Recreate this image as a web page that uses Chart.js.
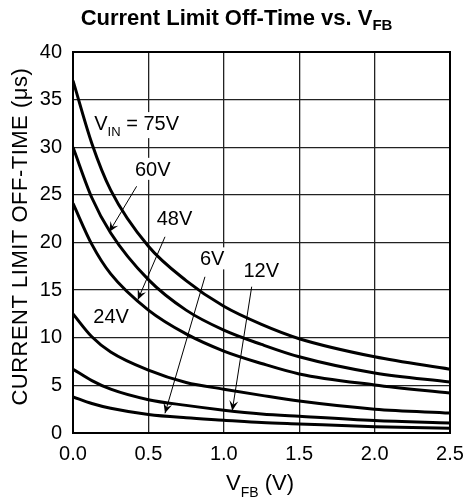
<!DOCTYPE html>
<html><head><meta charset="utf-8">
<script src="https://cdn.jsdelivr.net/npm/chart.js@4.4.1/dist/chart.umd.min.js"></script>
<style>html,body{margin:0;padding:0;background:#fff;}#wrap{width:467px;height:504px;}</style>
</head><body><div id="wrap"><canvas id="c" width="467" height="504"></canvas></div>
<script>
// ---- data ----
const vfb = [0, 0.125, 0.25, 0.5, 0.75, 1.0, 1.25, 1.5, 2.0, 2.5];
const vin75 = [37.0, 30.4, 25.5, 19.6, 16.0, 13.3, 11.4, 9.9, 8.0, 6.7];
const vin60 = [30.0, 24.7, 21.0, 16.1, 12.9, 10.8, 9.3, 8.0, 6.3, 5.35];
const vin48 = [24.1, 19.8, 16.7, 12.9, 10.4, 8.6, 7.3, 6.2, 5.05, 4.2];
const vin24 = [12.5, 10.1, 8.5, 6.6, 5.3, 4.6, 3.95, 3.35, 2.5, 2.1];
const vin12 = [6.7, 5.5, 4.6, 3.5, 2.9, 2.4, 2.0, 1.75, 1.3, 1.05];
const vin6 = [3.8, 3.1, 2.6, 1.95, 1.6, 1.35, 1.1, 0.95, 0.66, 0.5];
const seriesNames = ['75V', '60V', '48V', '24V', '12V', '6V'];
const xTickLabels = ['0.0', '0.5', '1.0', '1.5', '2.0', '2.5'];
const yTickLabels = ['0', '5', '10', '15', '20', '25', '30', '35', '40'];

// curve labels (text + anchor in data units) and arrows
const labelTexts = ['V', '60V', '48V', '24V', '6V', '12V'];
const labelAt = [[0.141, 31.8], [0.411, 27.0], [0.555, 21.8], [0.135, 11.5], [0.842, 17.6], [1.13, 16.4]];
const arrows = [
  [[0.422, 25.9], [0.24, 21.1]],
  [[0.61, 20.6], [0.43, 14.0]],
  [[0.875, 16.4], [0.61, 2.07]],
  [[1.185, 15.36], [1.056, 2.34]]
];

const FONT = "'Liberation Sans', Arial, Helvetica, sans-serif";
const allSeries = [vin75, vin60, vin48, vin24, vin12, vin6];

const datasets = allSeries.map((vals, i) => ({
  label: seriesNames[i],
  data: vals.map((v, j) => ({ x: vfb[j], y: v })),
  borderColor: '#000',
  borderWidth: 3,
  pointRadius: 0,
  fill: false,
  tension: 0.3,
  cubicInterpolationMode: 'monotone'
}));

function richText(ctx, parts, x, y, align) {
  let total = 0;
  parts.forEach(p => { ctx.font = p[1]; total += ctx.measureText(p[0]).width; });
  let cx = align === 'center' ? x - total / 2 : x;
  ctx.textAlign = 'left';
  ctx.textBaseline = 'alphabetic';
  parts.forEach(p => { ctx.font = p[1]; ctx.fillText(p[0], cx, y + p[2]); cx += ctx.measureText(p[0]).width; });
  return total;
}

function labelParts(i) {
  if (i === 0) return [['V', `20px ${FONT}`, 0], ['IN', `13px ${FONT}`, 6], [' = 75V', `20px ${FONT}`, 0]];
  return [[labelTexts[i], `20px ${FONT}`, 0]];
}

const decor = {
  id: 'decor',
  beforeDatasetsDraw(chart) {
    const { ctx, chartArea: a, scales: { x, y } } = chart;
    ctx.save();
    labelAt.forEach((p, i) => {
      let w = 0;
      labelParts(i).forEach(q => { ctx.font = q[1]; w += ctx.measureText(q[0]).width; });
      const px = x.getPixelForValue(p[0]), py = y.getPixelForValue(p[1]);
      ctx.fillStyle = '#fff';
      ctx.fillRect(px - 3, py - 18, w + 6, i === 0 ? 26 : 22);
    });
    ctx.strokeStyle = '#000';
    ctx.lineWidth = 2;
    ctx.strokeRect(a.left, a.top, a.right - a.left, a.bottom - a.top);
    ctx.restore();
  },
  afterDatasetsDraw(chart) {
    const { ctx, scales: { x, y } } = chart;
    ctx.save();
    ctx.fillStyle = '#000';
    labelAt.forEach((p, i) => {
      richText(ctx, labelParts(i), x.getPixelForValue(p[0]), y.getPixelForValue(p[1]), 'left');
    });
    ctx.strokeStyle = '#000';
    ctx.lineWidth = 1;
    arrows.forEach(ar => {
      const x0 = x.getPixelForValue(ar[0][0]), y0 = y.getPixelForValue(ar[0][1]);
      const x1 = x.getPixelForValue(ar[1][0]), y1 = y.getPixelForValue(ar[1][1]);
      const ang = Math.atan2(y1 - y0, x1 - x0);
      ctx.beginPath(); ctx.moveTo(x0, y0); ctx.lineTo(x1, y1); ctx.stroke();
      const L = 11, W = 0.42;
      ctx.beginPath();
      ctx.moveTo(x1, y1);
      ctx.lineTo(x1 - L * Math.cos(ang - W), y1 - L * Math.sin(ang - W));
      ctx.lineTo(x1 - 0.55 * L * Math.cos(ang), y1 - 0.55 * L * Math.sin(ang));
      ctx.lineTo(x1 - L * Math.cos(ang + W), y1 - L * Math.sin(ang + W));
      ctx.closePath(); ctx.fill();
    });
    richText(ctx, [['Current Limit Off-Time vs. V', `bold 22px ${FONT}`, 0], ['FB', `bold 15px ${FONT}`, 5]], 236.5, 25, 'center');
    richText(ctx, [['V', `22px ${FONT}`, 0], ['FB', `14px ${FONT}`, 7], [' (V)', `22px ${FONT}`, 0]], 260, 490, 'center');
    ctx.translate(21, 236.7);
    ctx.rotate(-Math.PI / 2);
    ctx.font = `22px ${FONT}`;
    try { ctx.letterSpacing = '0.5px'; } catch (e) {}
    ctx.textAlign = 'center';
    ctx.textBaseline = 'middle';
    ctx.fillText('CURRENT LIMIT OFF-TIME (\u03bcs)', 0, 0);
    ctx.restore();
  }
};

new Chart(document.getElementById('c'), {
  type: 'line',
  data: { datasets },
  options: {
    responsive: false,
    animation: false,
    devicePixelRatio: 1,
    layout: { padding: { top: 52, right: 17, left: 0, bottom: 0 } },
    plugins: { legend: { display: false }, tooltip: { enabled: false }, title: { display: false } },
    scales: {
      x: {
        type: 'linear', min: 0, max: 2.5,
        ticks: { stepSize: 0.5, autoSkip: false, maxRotation: 0, padding: 9, color: '#000',
          font: { size: 20, family: FONT },
          callback: v => xTickLabels[Math.round(v / 0.5)] },
        grid: { color: '#222', lineWidth: 1.3, drawTicks: false },
        border: { display: false },
        afterFit(s) { s.height = 71; s.paddingLeft = 0; s.paddingRight = 0; }
      },
      y: {
        min: 0, max: 40,
        ticks: { stepSize: 5, padding: 11, color: '#000',
          font: { size: 20, family: FONT },
          callback: v => yTickLabels[Math.round(v / 5)] },
        grid: { color: '#222', lineWidth: 1.3, drawTicks: false },
        border: { display: false },
        afterFit(s) { s.width = 73; s.paddingTop = 0; s.paddingBottom = 0; }
      }
    }
  },
  plugins: [decor]
});
</script>
</body></html>
